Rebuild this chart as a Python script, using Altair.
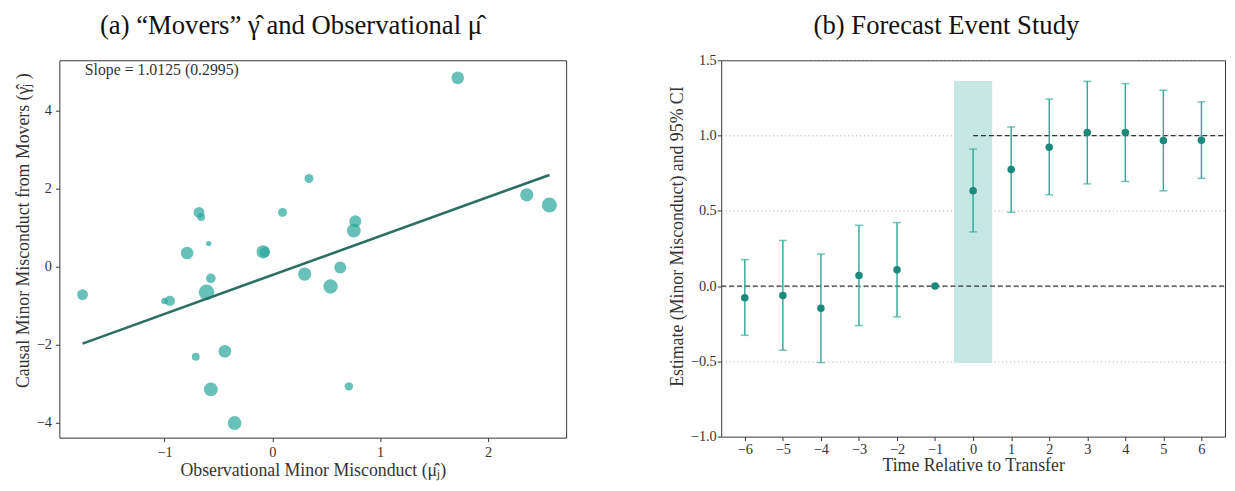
import altair as alt
import pandas as pd

# ---------------- Panel (a): movers vs observational ----------------
mu_hat = [1.72, 0.34, 2.36, 2.57, -0.68, -0.66, 0.095, 0.77, 0.756, -0.59, -0.79,
          -0.085, -0.07, -0.57, 0.30, 0.63, 0.54, -0.61, -1.76, -1.00, -0.95,
          -0.44, -0.71, 0.71, -0.57, -0.35]
gamma_hat = [4.85, 2.27, 1.85, 1.59, 1.40, 1.28, 1.40, 1.17, 0.93, 0.60, 0.36,
             0.39, 0.38, -0.29, -0.18, -0.01, -0.50, -0.65, -0.71, -0.87, -0.87,
             -2.16, -2.30, -3.06, -3.14, -4.00]
n_movers = [196, 100, 216, 279, 144, 76, 100, 177, 234, 36, 196, 216, 128, 114,
            216, 177, 256, 299, 144, 53, 128, 196, 76, 86, 234, 234]

fit_x = [-1.76, 2.57]
fit_y = [-1.965, 2.36]

slope_label = ["Slope = 1.0125 (0.2995)"]
slope_label_x = [-1.74]
slope_label_y = [5.05]

# ---------------- Panel (b): event study ----------------
event_time = [-6, -5, -4, -3, -2, -1, 0, 1, 2, 3, 4, 5, 6]
estimate = [-0.077, -0.062, -0.147, 0.070, 0.108, 0.0, 0.633, 0.774, 0.923,
            1.020, 1.020, 0.967, 0.969]
ci_low = [-0.327, -0.426, -0.508, -0.262, -0.204, None, 0.360, 0.490, 0.607,
          0.679, 0.695, 0.633, 0.716]
ci_high = [0.176, 0.303, 0.213, 0.404, 0.422, None, 0.910, 1.057, 1.242,
           1.360, 1.345, 1.301, 1.224]

shade_x = [-0.5]
shade_x2 = [0.5]
shade_y = [-0.51]
shade_y2 = [1.363]

ref_y = [0.0, 1.0]
ref_x_start = [-6.62, 0.0]
ref_x_end = [6.62, 6.62]

FONT = "Liberation Serif"
TXT = "#333333"

# ---------- build panel (a) ----------
df_a = pd.DataFrame({"mu": mu_hat, "gamma": gamma_hat, "n": n_movers})
df_fit = pd.DataFrame({"mu": fit_x, "gamma": fit_y})
df_lab = pd.DataFrame({"mu": slope_label_x, "gamma": slope_label_y, "t": slope_label})

xa = alt.Scale(domain=[-1.975, 2.725], nice=False, zero=False)
ya = alt.Scale(domain=[-4.375, 5.30], nice=False, zero=False)

x_axis_a = alt.Axis(values=[-1, 0, 1, 2], format="d", grid=False,
                    title="Observational Minor Misconduct (μ̂ⱼ)",
                    labelPadding=4, titlePadding=3)
y_axis_a = alt.Axis(values=[-4, -2, 0, 2, 4], format="d", grid=False,
                    title="Causal Minor Misconduct from Movers (γ̂ⱼ )",
                    labelPadding=4, titlePadding=4, titleY=172)

pts = alt.Chart(df_a).mark_circle(color="#26a69a", opacity=0.7).encode(
    x=alt.X("mu:Q", scale=xa, axis=x_axis_a),
    y=alt.Y("gamma:Q", scale=ya, axis=y_axis_a),
    size=alt.Size("n:Q", scale=alt.Scale(domain=[0, 300], range=[0, 250]), legend=None),
)
fit = alt.Chart(df_fit).mark_line(color="#2d6e64", strokeWidth=2.6).encode(
    x=alt.X("mu:Q", scale=xa), y=alt.Y("gamma:Q", scale=ya)
)
lab = alt.Chart(df_lab).mark_text(align="left", baseline="middle", font=FONT,
                                  fontSize=16, color=TXT).encode(
    x=alt.X("mu:Q", scale=xa), y=alt.Y("gamma:Q", scale=ya), text="t:N"
)

panel_a = alt.layer(pts, fit, lab).properties(
    width=513, height=382,
    title=alt.TitleParams("(a) “Movers” γ̂ and Observational μ̂", fontSize=27,
                          font=FONT, fontWeight="normal", color="#111111",
                          offset=21, dx=-22),
)

# ---------- build panel (b) ----------
df_b = pd.DataFrame({"t": event_time, "est": estimate, "lo": ci_low, "hi": ci_high})
df_ci = df_b.dropna()
df_shade = pd.DataFrame({"x": shade_x, "x2": shade_x2, "y": shade_y, "y2": shade_y2})
df_ref = pd.DataFrame({"y": ref_y, "x": ref_x_start, "x2": ref_x_end})

xb = alt.Scale(domain=[-6.62, 6.62], nice=False, zero=False)
yb = alt.Scale(domain=[-1.0, 1.5], nice=False, zero=False)

x_axis_b = alt.Axis(values=event_time, format="d", grid=False,
                    title="Time Relative to Transfer", labelPadding=2, titlePadding=1)
y_axis_b = alt.Axis(values=[-1.0, -0.5, 0.0, 0.5, 1.0, 1.5], format=".1f",
                    grid=True, gridDash=[1, 3], gridColor="#aaaaaa", gridWidth=1,
                    title="Estimate (Minor Misconduct) and 95% CI",
                    labelPadding=1, titlePadding=4, titleY=178)

shade = alt.Chart(df_shade).mark_rect(color="#c6e8e4").encode(
    x=alt.X("x:Q", scale=xb, axis=x_axis_b), x2="x2:Q",
    y=alt.Y("y:Q", scale=yb, axis=y_axis_b), y2="y2:Q",
)
refs = alt.Chart(df_ref).mark_rule(color="#333333", strokeDash=[5, 3], strokeWidth=1.3).encode(
    x=alt.X("x:Q", scale=xb), x2="x2:Q", y=alt.Y("y:Q", scale=yb)
)
bars = alt.Chart(df_ci).mark_rule(color="#3aa99b", strokeWidth=1.5).encode(
    x=alt.X("t:Q", scale=xb), y=alt.Y("lo:Q", scale=yb), y2="hi:Q"
)
cap_lo = alt.Chart(df_ci).mark_tick(color="#3aa99b", orient="horizontal", size=8, thickness=1.5).encode(
    x=alt.X("t:Q", scale=xb), y=alt.Y("lo:Q", scale=yb)
)
cap_hi = alt.Chart(df_ci).mark_tick(color="#3aa99b", orient="horizontal", size=8, thickness=1.5).encode(
    x=alt.X("t:Q", scale=xb), y=alt.Y("hi:Q", scale=yb)
)
dots = alt.Chart(df_b).mark_circle(color="#1a8a7a", opacity=1, size=58).encode(
    x=alt.X("t:Q", scale=xb), y=alt.Y("est:Q", scale=yb)
)

panel_b = alt.layer(shade, refs, bars, cap_lo, cap_hi, dots).properties(
    width=510, height=381,
    title=alt.TitleParams("(b) Forecast Event Study", fontSize=27, font=FONT,
                          fontWeight="normal", color="#111111", offset=13, dx=-27),
)

chart = alt.hconcat(panel_a, panel_b, spacing=102).properties(
    padding={"left": 6, "top": 0, "right": 0, "bottom": 0}
).configure_axis(
    labelFont=FONT, labelFontSize=14.5, labelColor=TXT,
    titleFont=FONT, titleFontSize=18, titleFontWeight="normal", titleColor=TXT,
    tickColor=TXT, tickSize=4, domain=False,
).configure_view(
    stroke="#333333", strokeWidth=1
)

chart.save("out.html", embed_options={"renderer": "svg", "actions": False})
